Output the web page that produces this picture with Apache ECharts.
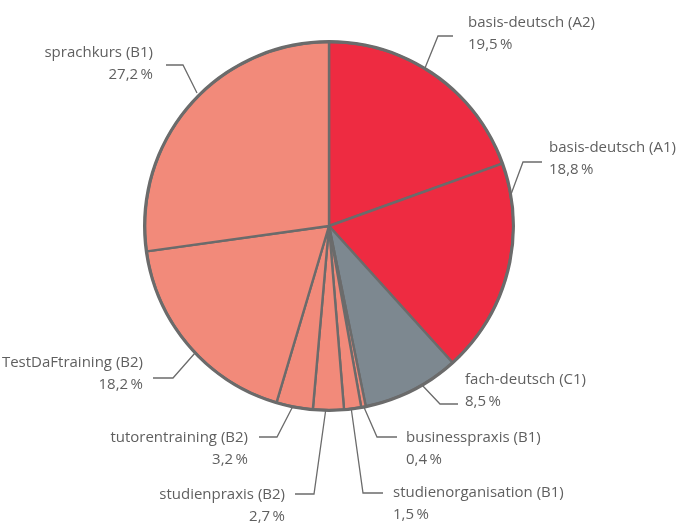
<!DOCTYPE html>
<html><head><meta charset="utf-8">
<script src="https://cdn.jsdelivr.net/npm/echarts@6/dist/echarts.min.js"></script>
<style>html,body{margin:0;padding:0;background:#fff}#c{width:676px;height:525px}</style>
</head><body><div id="c"></div>
<script>
var categories = ['basis-deutsch (A2)','basis-deutsch (A1)','fach-deutsch (C1)','businesspraxis (B1)','studienorganisation (B1)','studienpraxis (B2)','tutorentraining (B2)','TestDaFtraining (B2)','sprachkurs (B1)'];
var values = [19.5, 18.8, 8.5, 0.4, 1.5, 2.7, 3.2, 18.2, 27.2];
var colors = ['#EE2B41','#EE2B41','#7D8890','#F28A7A','#F28A7A','#F28A7A','#F28A7A','#F28A7A','#F28A7A'];

// label text anchor (x, top y, align) and leader line points
var labelPos = [
  {x:468, y:12,  align:'left'},
  {x:549, y:137, align:'left'},
  {x:465, y:369, align:'left'},
  {x:406, y:427, align:'left'},
  {x:393, y:482, align:'left'},
  {x:285, y:484, align:'right'},
  {x:248, y:427, align:'right'},
  {x:143, y:352, align:'right'},
  {x:153, y:42,  align:'right'}
];
var leaders = [
  [[425,68],[438,36],[453,36]],
  [[510,197],[523,162],[542,162]],
  [[422,385],[440,404],[458,404]],
  [[363,405],[377,437],[397,437]],
  [[351,407],[363,493],[383,493]],
  [[326,408],[314,494],[295,494]],
  [[293,406],[277,437],[259,437]],
  [[195,353],[173,378],[153,378]],
  [[197,93],[183,65],[166,65]]
];

var chart = echarts.init(document.getElementById('c'), null, {renderer:'canvas'});
var data = categories.map(function(n,i){return {name:n, value:values[i], itemStyle:{color:colors[i]}};});
chart.setOption({
  animation:false,
  series:[{
    type:'pie',
    center:[329,226],
    radius:[0,184],
    startAngle:90,
    clockwise:true,
    data:data,
    itemStyle:{borderColor:'#6B6B6B', borderWidth:2.4},
    label:{
      show:true,
      overflow:'none',
      formatter:function(p){return p.name+'\n'+String(p.value).replace('.',',')+'\u2009%';},
      color:'#5F5F5F',
      fontFamily:'Open Sans, sans-serif',
      fontSize:15,
      lineHeight:22
    },
    labelLine:{show:true, lineStyle:{color:'#6B6B6B', width:1.3}},
    labelLayout:function(p){
      var lp = labelPos[p.dataIndex];
      return {x:lp.x, y:lp.y, align:lp.align, verticalAlign:'top', labelLinePoints:leaders[p.dataIndex]};
    },
    emphasis:{disabled:true}
  },{
    type:'pie',
    center:[329,226],
    radius:[183,186],
    silent:true,
    label:{show:false},
    labelLine:{show:false},
    data:[{value:1, itemStyle:{color:'#6B6B6B'}}]
  }]
});
</script>
</body></html>
